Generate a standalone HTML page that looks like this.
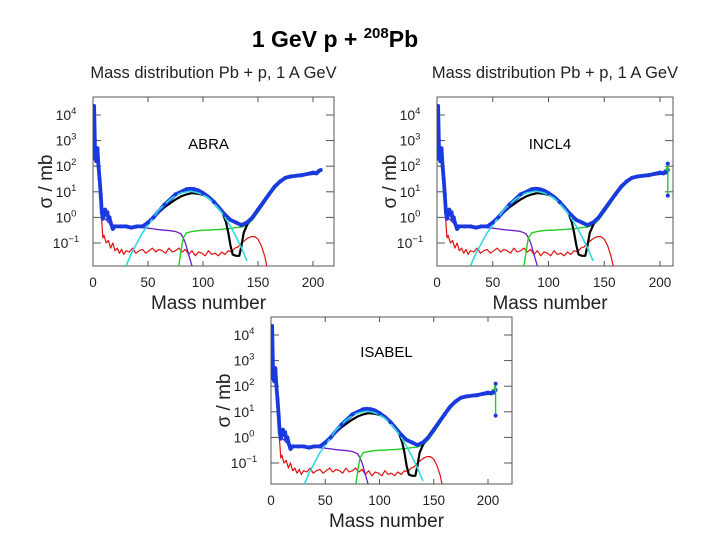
<!DOCTYPE html>
<html><head><meta charset="utf-8"><style>
body{margin:0;background:#fff;}
svg{display:block;font-family:"Liberation Sans",sans-serif;}
</style></head><body>
<svg id="fig" width="720" height="540" viewBox="0 0 720 540" xmlns="http://www.w3.org/2000/svg">
<text x="335" y="47" text-anchor="middle" font-size="23" font-weight="bold">1 GeV p + <tspan font-size="15" dy="-9">208</tspan><tspan dy="9">Pb</tspan></text>
</svg>
<script>
// ---- data (mass number, log10 sigma/mb) ----
const xTicks = [0, 50, 100, 150, 200];
const yTickExp = [4, 3, 2, 1, 0, -1];
const panelNames = ["ABRA", "INCL4", "ISABEL"];

const blueA = [1,2,3,4,5,6,7,8,9,10,11,12,13,14,15,16,18,20,25,30,35,40,45,50,55,60,65,70,75,80,85,88,92,96,100,105,110,115,120,125,130,135,140,145,150,155,160,165,170,175,180,185,190,195,200,203,205,207];
const blueV = [4.35,2.3,2.2,2.7,2.0,1.5,0.9,0.2,-0.05,0.25,0.3,0.1,0.2,-0.05,0.0,-0.2,-0.45,-0.35,-0.35,-0.35,-0.4,-0.35,-0.35,-0.2,0.0,0.25,0.5,0.7,0.9,1.0,1.1,1.12,1.1,1.05,0.95,0.8,0.6,0.35,0.1,-0.1,-0.2,-0.3,-0.2,0.0,0.3,0.6,0.9,1.2,1.4,1.55,1.6,1.63,1.65,1.7,1.75,1.72,1.8,1.85];

const blackA = [45,50,55,60,65,70,75,80,85,90,95,100,105,110,115,118,121,123,125,127,130,133,135,137,140,145,150,155,160,165,170,175,180,185,190,195,200,205];
const blackV = [-0.35,-0.2,0.0,0.2,0.4,0.55,0.7,0.82,0.9,0.95,0.93,0.88,0.78,0.62,0.4,0.15,-0.2,-0.6,-1.1,-1.45,-1.5,-1.5,-1.1,-0.6,-0.3,0.05,0.35,0.65,0.95,1.2,1.4,1.52,1.58,1.62,1.65,1.67,1.7,1.72];

const cyanA = [30,35,40,45,50,55,60,65,70,75,80,85,88,92,96,100,105,110,115,120,125,130,135,140];
const cyanV = [-1.9,-1.4,-1.0,-0.6,-0.3,0.0,0.3,0.5,0.7,0.85,0.95,1.0,1.02,1.0,0.95,0.88,0.75,0.55,0.3,0.0,-0.35,-0.75,-1.2,-1.7];

const greenA = [78,80,82,85,90,95,100,105,110,115,120,125,130,135,140,145,150,155,160,165,170,175,180,185,190,195,200,205];
const greenV = [-1.9,-1.3,-0.8,-0.6,-0.55,-0.52,-0.5,-0.5,-0.48,-0.47,-0.45,-0.43,-0.4,-0.38,-0.3,-0.1,0.2,0.5,0.85,1.1,1.35,1.5,1.58,1.62,1.65,1.67,1.7,1.72];

const purpleA = [8,10,12,14,16,18,20,25,30,35,40,45,50,55,60,65,70,75,78,80,82,84,86,88,90];
const purpleV = [0.5,0.0,-0.1,-0.2,-0.25,-0.3,-0.3,-0.32,-0.35,-0.36,-0.38,-0.4,-0.42,-0.45,-0.48,-0.5,-0.52,-0.55,-0.6,-0.65,-0.8,-1.0,-1.3,-1.6,-1.9];

const redA = [7,8,9,10,12,14,16,18,20,22,24,26,28,30,33,36,39,42,45,48,51,54,57,60,63,66,69,72,75,78,81,84,87,90,93,96,99,102,105,108,111,114,117,120,123,126,129,132,135,138,141,144,147,150,153,156,158];
const redV = [0.3,-0.2,-0.8,-0.7,-1.0,-0.9,-1.2,-1.0,-1.3,-1.2,-1.4,-1.25,-1.45,-1.3,-1.35,-1.2,-1.4,-1.3,-1.25,-1.4,-1.3,-1.2,-1.35,-1.25,-1.3,-1.4,-1.2,-1.35,-1.3,-1.2,-1.35,-1.25,-1.45,-1.3,-1.5,-1.35,-1.4,-1.5,-1.3,-1.45,-1.4,-1.5,-1.35,-1.45,-1.3,-1.35,-1.2,-1.15,-1.0,-0.9,-0.8,-0.75,-0.75,-0.85,-1.1,-1.5,-1.9];

const endA = [205, 207, 207];
const endV = [1.75, 2.1, 0.85];

// ---- layout ----
const panels = [
  {ox:93, right:334, top:97, bottom:266, x200:313, yM1:243, end:false, title:true},
  {ox:437, right:673, top:97, bottom:266, x200:660, yM1:243, end:true, title:true},
  {ox:271, right:512, top:317, bottom:484, x200:488, yM1:463, end:true, title:false}
];
const NS = "http://www.w3.org/2000/svg";
const svg = document.getElementById("fig");
function mk(tag, attrs, parent){const e=document.createElementNS(NS,tag);for(const k in attrs)e.setAttribute(k,attrs[k]);(parent||svg).appendChild(e);return e;}

panels.forEach((p, i) => {
  const g = mk("g", {});
  
  
  const sx = a => p.ox + a * (p.x200 - p.ox) / 200;
  const sy = v => p.yM1 - (v + 1) * 25.6;
  const clipId = "clip" + i;
  const cp = mk("clipPath", {id: clipId}, g);
  mk("rect", {x:p.ox, y:p.top, width:p.right-p.ox, height:p.bottom-p.top}, cp);

  if (p.title) {
    const t = mk("text", {x:(p.ox+p.right)/2, y:p.top-19, "text-anchor":"middle", "font-size":"16.5", fill:"#222"}, g);
    t.textContent = "Mass distribution Pb + p, 1 A GeV";
    
    
  }

  const box = mk("rect", {x:p.ox, y:p.top, width:p.right-p.ox, height:p.bottom-p.top, fill:"none", stroke:"#555", "stroke-width":"1"}, g);
  
  

  xTicks.forEach(v => {
    const x = sx(v);
    mk("line", {x1:x, x2:x, y1:p.bottom, y2:p.bottom-5, stroke:"#555"}, g);
    mk("line", {x1:x, x2:x, y1:p.top, y2:p.top+5, stroke:"#555"}, g);
    const l = mk("text", {x:x, y:p.bottom+21, "text-anchor":"middle", "font-size":"13.5", fill:"#222"}, g);
    l.textContent = v;
    
    
  });
  yTickExp.forEach(e => {
    const y = sy(e);
    mk("line", {x1:p.ox, x2:p.ox+8, y1:y, y2:y, stroke:"#555"}, g);
    mk("line", {x1:p.right, x2:p.right-8, y1:y, y2:y, stroke:"#555"}, g);
    const l = mk("text", {x:p.ox-27, y:y+5, "text-anchor":"middle", "font-size":"14", fill:"#222"}, g);
    l.innerHTML = '10<tspan font-size="9.5" dy="-6">' + (e < 0 ? '\u2212' + (-e) : e) + '</tspan>';
    
    
  });
  const xt = mk("text", {x:(p.ox+p.right)/2-5, y:p.bottom+43, "text-anchor":"middle", "font-size":"19", fill:"#222"}, g);
  xt.textContent = "Mass number";
  
  
  const yc = (p.top+p.bottom)/2;
  const yt = mk("text", {x:p.ox-47, y:yc, "text-anchor":"middle", "font-size":"19", fill:"#222", transform:"rotate(-90 "+(p.ox-47)+" "+yc+")", dy:"6"}, g);
  yt.textContent = "\u03c3 / mb";
  
  
  const mt = mk("text", {x:(p.ox+p.right)/2-5, y:p.top+(p.title?52:40), "text-anchor":"middle", "font-size":"15", fill:"#000"}, g);
  mt.textContent = panelNames[i];
  
  

  const plot = mk("g", {"clip-path":"url(#"+clipId+")"}, g);
  function line(A, V, color, w, name){
    const d = A.map((a,k)=>(k?"L":"M")+sx(a).toFixed(1)+" "+sy(V[k]).toFixed(1)).join(" ");
    const e = mk("path", {d:d, fill:"none", stroke:color, "stroke-width":w, "stroke-linejoin":"round"}, plot);
    
    
  }
  line(redA, redV, "#e01010", 1.2, "series-red");
  line(purpleA, purpleV, "#6a20c8", 1.3, "series-purple");
  line(greenA, greenV, "#22cc22", 1.4, "series-green");
  line(blackA, blackV, "#000", 2.2, "series-black");
  line(blueA, blueV, "#1a3ae0", 3.8, "series-blue");
  line(cyanA, cyanV, "#30d8e0", 1.6, "series-cyan");
  blueA.forEach((a,k) => {
    if (a > 50 && a < 200 && k % 2) return;
    const c = mk("circle", {cx:sx(a), cy:sy(blueV[k]), r:2, fill:"#1a3ae0"}, plot);
    
    
  });
  if (p.end) {
    line(endA, endV, "#22cc22", 1.4, "series-end");
    endA.forEach((a,k)=>{
      const c = mk("circle", {cx:sx(a), cy:sy(endV[k]), r:2, fill:"#1a3ae0"}, plot);
      
      
    });
  }
});
</script>
</body></html>
